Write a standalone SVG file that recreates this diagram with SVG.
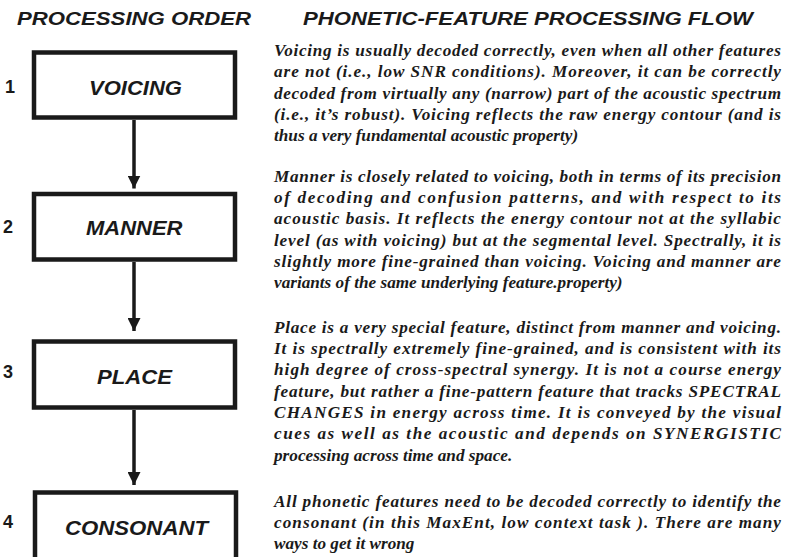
<svg xmlns="http://www.w3.org/2000/svg" width="786" height="557" viewBox="0 0 786 557">
<style>
.title{font-family:"Liberation Sans",Arial,sans-serif;font-weight:bold;font-style:italic;font-size:18px;fill:#1a1a1a}
.box{fill:#fff;stroke:#1a1a1a;stroke-width:4.5}
.lbl{font-family:"Liberation Sans",Arial,sans-serif;font-weight:bold;font-style:italic;font-size:19.5px;fill:#1a1a1a}
.num{font-family:"Liberation Sans",Arial,sans-serif;font-weight:bold;font-size:18px;fill:#1a1a1a}
.para{font-family:"Liberation Serif","Times New Roman",serif;font-weight:bold;font-style:italic;font-size:17.2px;fill:#1a1a1a}
.conn{stroke:#1a1a1a;stroke-width:3.5;fill:none}
</style>
<defs>
<marker id="ah" markerUnits="userSpaceOnUse" markerWidth="14" markerHeight="13" refX="13" refY="6.5" orient="auto">
<path d="M0,0 L13,6.5 L0,13 Z" fill="#1a1a1a"/>
</marker>
</defs>
<rect width="786" height="557" fill="#fff"/>
<text class="title" x="17" y="25" textLength="234" lengthAdjust="spacingAndGlyphs">PROCESSING ORDER</text>
<text class="title" x="303" y="25" textLength="450" lengthAdjust="spacingAndGlyphs">PHONETIC-FEATURE PROCESSING FLOW</text>

<g id="connectors">
<line class="conn" x1="134" y1="120" x2="134" y2="188.5" marker-end="url(#ah)"/>
<line class="conn" x1="134" y1="262" x2="134" y2="331" marker-end="url(#ah)"/>
<line class="conn" x1="134" y1="410" x2="134" y2="485" marker-end="url(#ah)"/>
</g>

<g id="voicing">
<rect class="box" x="34" y="52.5" width="201" height="65"/>
<text class="num" x="5" y="93">1</text>
<text class="lbl" x="89" y="95" textLength="93" lengthAdjust="spacingAndGlyphs">VOICING</text>
</g>
<g id="manner">
<rect class="box" x="34" y="194" width="201" height="65.5"/>
<text class="num" x="3" y="233">2</text>
<text class="lbl" x="86" y="235" textLength="96.5" lengthAdjust="spacingAndGlyphs">MANNER</text>
</g>
<g id="place">
<rect class="box" x="34" y="341.5" width="201" height="66"/>
<text class="num" x="3" y="378">3</text>
<text class="lbl" x="97" y="384" textLength="75" lengthAdjust="spacingAndGlyphs">PLACE</text>
</g>
<g id="consonant">
<rect class="box" x="35" y="492.5" width="201" height="90"/>
<text class="num" x="3" y="528">4</text>
<text class="lbl" x="65" y="535" textLength="143" lengthAdjust="spacingAndGlyphs">CONSONANT</text>
</g>

<g id="descriptions" class="para">
<text x="274" y="56" textLength="507" lengthAdjust="spacing">Voicing is usually decoded correctly, even when all other features</text>
<text x="274" y="77.3" textLength="507" lengthAdjust="spacing">are not (i.e., low SNR conditions). Moreover, it can be correctly</text>
<text x="274" y="98.6" textLength="507" lengthAdjust="spacing">decoded from virtually any (narrow) part of the acoustic spectrum</text>
<text x="274" y="119.9" textLength="507" lengthAdjust="spacing">(i.e., it’s robust). Voicing reflects the raw energy contour (and is</text>
<text x="274" y="141.2">thus a very fundamental acoustic property)</text>

<text x="274" y="181.7" textLength="507" lengthAdjust="spacing">Manner is closely related to voicing, both in terms of its precision</text>
<text x="274" y="203" textLength="507" lengthAdjust="spacing">of decoding and confusion patterns, and with respect to its</text>
<text x="274" y="224.3" textLength="507" lengthAdjust="spacing">acoustic basis. It reflects the energy contour not at the syllabic</text>
<text x="274" y="245.6" textLength="507" lengthAdjust="spacing">level (as with voicing) but at the segmental level. Spectrally, it is</text>
<text x="274" y="266.9" textLength="507" lengthAdjust="spacing">slightly more fine-grained than voicing. Voicing and manner are</text>
<text x="274" y="288.2">variants of the same underlying feature.property)</text>

<text x="274" y="332.7" textLength="507" lengthAdjust="spacing">Place is a very special feature, distinct from manner and voicing.</text>
<text x="274" y="354" textLength="507" lengthAdjust="spacing">It is spectrally extremely fine-grained, and is consistent with its</text>
<text x="274" y="375.3" textLength="507" lengthAdjust="spacing">high degree of cross-spectral synergy. It is not a course energy</text>
<text x="274" y="396.6" textLength="507" lengthAdjust="spacing">feature, but rather a fine-pattern feature that tracks SPECTRAL</text>
<text x="274" y="417.9" textLength="507" lengthAdjust="spacing">CHANGES in energy across time. It is conveyed by the visual</text>
<text x="274" y="439.2" textLength="507" lengthAdjust="spacing">cues as well as the acoustic and depends on SYNERGISTIC</text>
<text x="274" y="460.5">processing across time and space.</text>

<text x="274" y="506.5" textLength="507" lengthAdjust="spacing">All phonetic features need to be decoded correctly to identify the</text>
<text x="274" y="527.8" textLength="507" lengthAdjust="spacing">consonant (in this MaxEnt, low context task ). There are many</text>
<text x="274" y="549.1">ways to get it wrong</text>
</g>
</svg>
